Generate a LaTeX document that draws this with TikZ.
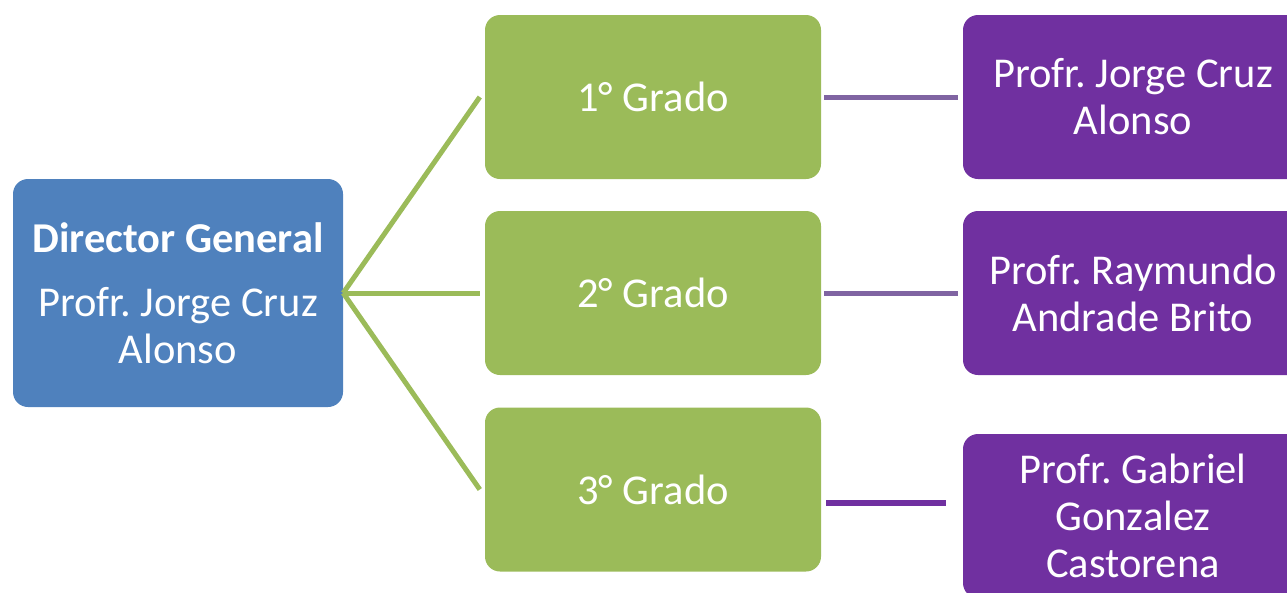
\documentclass[tikz,border=0pt]{standalone}
\usepackage{fontspec}
\setmainfont{Carlito}
\frenchspacing
\definecolor{dirblue}{HTML}{4F81BD}
\definecolor{grgreen}{HTML}{9BBB59}
\definecolor{prpurple}{HTML}{7030A0}
\definecolor{lnpurple}{HTML}{8064A2}
\tikzset{
  box/.style={rounded corners=15pt, inner sep=0pt, align=center, text=white,
    font=\fontsize{42.5}{47}\selectfont},
  dirbox/.style={box, fill=dirblue, minimum width=330pt, minimum height=228pt},
  gradebox/.style={box, fill=grgreen, minimum width=336pt, minimum height=164pt},
  profbox/.style={box, fill=prpurple, minimum width=340pt, minimum height=164pt},
  gline/.style={draw=grgreen, line width=5pt},
  pline/.style={draw=lnpurple, line width=5pt},
  pline3/.style={draw=prpurple, line width=6pt}
}
\begin{document}
\begin{tikzpicture}[x=1pt,y=-1pt]
\useasboundingbox (0,0) rectangle (1287,592);
\clip (0,0) rectangle (1287,592);
\node[dirbox] (dir) at (178,293) {{\bfseries Director General}\\[17pt]Profr. Jorge Cruz\\Alonso};
\node[gradebox] (g1) at (653,97) {1° Grado};
\node[gradebox] (g2) at (653,293) {2° Grado};
\node[gradebox] (g3) at (653,489.5) {3° Grado};
\node[profbox] (p1) at (1133,97) {Profr. Jorge Cruz\\Alonso};
\node[profbox] (p2) at (1133,293) {Profr. Raymundo\\Andrade Brito};
\node[profbox] (p3) at (1133,516) {Profr. Gabriel\\Gonzalez\\Castorena};
\coordinate (hub) at (dir.east);
\coordinate (e1) at ([xshift=-5pt]g1.west);
\coordinate (e2) at ([xshift=-5pt]g2.west);
\coordinate (e3) at ([xshift=-5pt]g3.west);
\draw[gline] (hub) -- (e1);
\draw[gline] (hub) -- (e2);
\draw[gline] (hub) -- (e3);
\draw[pline] ([xshift=3pt]g1.east) -- ([xshift=-5pt]p1.west);
\draw[pline] ([xshift=3pt]g2.east) -- ([xshift=-5pt]p2.west);
\coordinate (s3) at ([xshift=5pt]g3.east |- 0,503);
\coordinate (t3) at (946,503);
\draw[pline3] (s3) -- (t3);
\end{tikzpicture}
\end{document}
